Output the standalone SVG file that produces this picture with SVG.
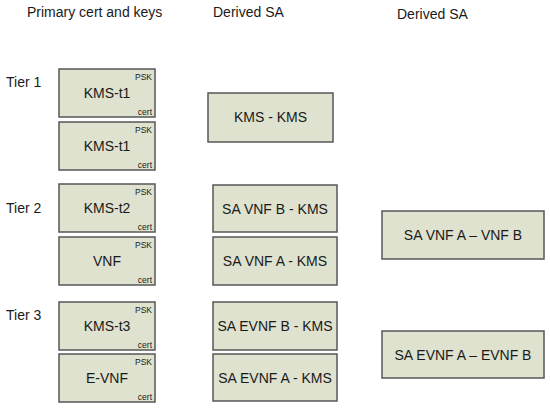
<svg xmlns="http://www.w3.org/2000/svg" width="550" height="410" viewBox="0 0 550 410">
<style>
text{font-family:"Liberation Sans",Arial,sans-serif;fill:#1a1a1a}
.box{fill:#dee2cf;stroke:#575757;stroke-width:1.5}
.hd{font-size:14px}
.main{font-size:14px;text-anchor:middle}
.sm{font-size:8.5px;text-anchor:end}
</style>
<rect width="550" height="410" fill="#fff"/>
<g id="headers">
<text class="hd" x="27" y="17">Primary cert and keys</text>
<text class="hd" x="213" y="17">Derived SA</text>
<text class="hd" x="397" y="19">Derived SA</text>
<text class="hd" x="6" y="87">Tier 1</text>
<text class="hd" x="6" y="213">Tier 2</text>
<text class="hd" x="6" y="320">Tier 3</text>
</g>
<g id="connectors"></g>
<g id="kms-t1-a"><rect class="box" x="59" y="69" width="96" height="48"/><text class="main" x="107" y="98">KMS-t1</text><text class="sm" x="152" y="80">PSK</text><text class="sm" x="152" y="115">cert</text></g>
<g id="kms-t1-b"><rect class="box" x="59" y="122" width="96" height="48"/><text class="main" x="107" y="151">KMS-t1</text><text class="sm" x="152" y="133">PSK</text><text class="sm" x="152" y="168">cert</text></g>
<g id="kms-t2"><rect class="box" x="59" y="184" width="96" height="48"/><text class="main" x="107" y="213">KMS-t2</text><text class="sm" x="152" y="195">PSK</text><text class="sm" x="152" y="230">cert</text></g>
<g id="vnf"><rect class="box" x="59" y="237" width="96" height="48"/><text class="main" x="107" y="266">VNF</text><text class="sm" x="152" y="248">PSK</text><text class="sm" x="152" y="283">cert</text></g>
<g id="kms-t3"><rect class="box" x="59" y="302" width="96" height="48"/><text class="main" x="107" y="331">KMS-t3</text><text class="sm" x="152" y="313">PSK</text><text class="sm" x="152" y="348">cert</text></g>
<g id="e-vnf"><rect class="box" x="59" y="354" width="96" height="48"/><text class="main" x="107" y="383">E-VNF</text><text class="sm" x="152" y="365">PSK</text><text class="sm" x="152" y="400">cert</text></g>
<g id="kms-kms"><rect class="box" x="208" y="93" width="125" height="49"/><text class="main" x="270.5" y="122">KMS - KMS</text></g>
<g id="sa-vnfb-kms"><rect class="box" x="213" y="185" width="124" height="47"/><text class="main" x="275" y="214">SA VNF B - KMS</text></g>
<g id="sa-vnfa-kms"><rect class="box" x="213" y="237" width="124" height="48"/><text class="main" x="275" y="266">SA VNF A - KMS</text></g>
<g id="sa-evnfb-kms"><rect class="box" x="213" y="302" width="124" height="48"/><text class="main" x="275" y="331">SA EVNF B - KMS</text></g>
<g id="sa-evnfa-kms"><rect class="box" x="213" y="354" width="124" height="47"/><text class="main" x="275" y="383">SA EVNF A - KMS</text></g>
<g id="sa-vnfa-vnfb"><rect class="box" x="382" y="211" width="162" height="48"/><text class="main" x="463" y="240">SA VNF A – VNF B</text></g>
<g id="sa-evnfa-evnfb"><rect class="box" x="382" y="331" width="162" height="47"/><text class="main" x="463" y="360">SA EVNF A – EVNF B</text></g>
</svg>
